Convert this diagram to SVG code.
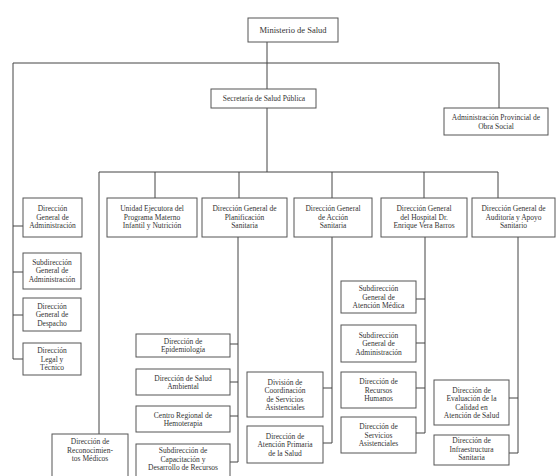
<svg xmlns="http://www.w3.org/2000/svg" width="558" height="476" viewBox="0 0 558 476">
<style>
.b{fill:#fff;stroke:#555;stroke-width:1}
.t{font-family:"Liberation Serif",serif;font-size:7.5px;fill:#333;text-anchor:middle}
.c{fill:none;stroke:#444;stroke-width:1}
</style>
<rect width="558" height="476" fill="#fff"/>
<g id="connectors">
<path class="c" d="M267 42V89M13 63H499M499 63V108M13 63V359M267 108V172M99 172H498M99 172V434M155 172V198M239 172V198M332 172V198M424 172V198M498 172V198"/>
<path class="c" d="M13 226H23M13 272H23M13 315H23M13 359H23"/>
<path class="c" d="M238 237V462M230 344H238M230 382H238M230 416H238M230 462H238"/>
<path class="c" d="M332 237V443M323 388H332M323 443H332"/>
<path class="c" d="M425 237V433M416 299H425M416 343H425M416 388H425M416 433H425"/>
<path class="c" d="M518 237V453M509 398H518M509 453H518"/>
</g>
<g id="ministerio"><rect class="b" x="248" y="18" width="90" height="24"/><text class="t" x="293" y="33" style="font-size:8.5px">Ministerio de Salud</text></g>
<g id="secretaria"><rect class="b" x="211" y="89" width="105" height="19"/><text class="t" x="264" y="101">Secretaría de Salud Pública</text></g>
<g id="obra-social"><rect class="b" x="444" y="108" width="104" height="27"/><text class="t" x="496" y="120">Administración Provincial de</text><text class="t" x="496" y="128.5">Obra Social</text></g>
<g id="dg-administracion"><rect class="b" x="23" y="198" width="59" height="39"/><text class="t" x="52.5" y="211">Dirección</text><text class="t" x="52.5" y="219.5">General de</text><text class="t" x="52.5" y="228">Administración</text></g>
<g id="unidad-ejecutora"><rect class="b" x="107" y="198" width="90" height="39"/><text class="t" x="152" y="211">Unidad Ejecutora del</text><text class="t" x="152" y="219.5">Programa Materno</text><text class="t" x="152" y="228">Infantil y Nutrición</text></g>
<g id="dg-planificacion"><rect class="b" x="202" y="198" width="85" height="39"/><text class="t" x="244.5" y="211">Dirección General de</text><text class="t" x="244.5" y="219.5">Planificación</text><text class="t" x="244.5" y="228">Sanitaria</text></g>
<g id="dg-accion"><rect class="b" x="294" y="198" width="78" height="39"/><text class="t" x="333" y="211">Dirección General</text><text class="t" x="333" y="219.5">de Acción</text><text class="t" x="333" y="228">Sanitaria</text></g>
<g id="dg-hospital"><rect class="b" x="381" y="198" width="86" height="39"/><text class="t" x="424" y="211">Dirección General</text><text class="t" x="424" y="219.5">del Hospital Dr.</text><text class="t" x="424" y="228">Enrique Vera Barros</text></g>
<g id="dg-auditoria"><rect class="b" x="472" y="198" width="83" height="39"/><text class="t" x="513.5" y="211">Dirección General de</text><text class="t" x="513.5" y="219.5">Auditoría y Apoyo</text><text class="t" x="513.5" y="228">Sanitario</text></g>
<g id="sub-administracion"><rect class="b" x="23" y="253" width="58" height="36"/><text class="t" x="52" y="264.5">Subdirección</text><text class="t" x="52" y="273">General de</text><text class="t" x="52" y="281.5">Administración</text></g>
<g id="despacho"><rect class="b" x="23" y="298" width="58" height="33"/><text class="t" x="52" y="308.5">Dirección</text><text class="t" x="52" y="317">General de</text><text class="t" x="52" y="325.5">Despacho</text></g>
<g id="legal"><rect class="b" x="23" y="343" width="58" height="32"/><text class="t" x="52" y="353">Dirección</text><text class="t" x="52" y="361.5">Legal y</text><text class="t" x="52" y="370">Técnico</text></g>
<g id="reconocimientos"><rect class="b" x="52" y="434" width="76" height="50"/><text class="t" x="90" y="444">Dirección de</text><text class="t" x="90" y="452.5">Reconocimien-</text><text class="t" x="90" y="461">tos Médicos</text></g>
<g id="epidemiologia"><rect class="b" x="136" y="334" width="94" height="23"/><text class="t" x="183" y="343.5">Dirección de</text><text class="t" x="183" y="352">Epidemiología</text></g>
<g id="salud-ambiental"><rect class="b" x="136" y="369" width="94" height="26"/><text class="t" x="183" y="380.5">Dirección de Salud</text><text class="t" x="183" y="389">Ambiental</text></g>
<g id="hemoterapia"><rect class="b" x="136" y="406" width="94" height="26"/><text class="t" x="183" y="417.5">Centro Regional de</text><text class="t" x="183" y="426">Hemoterapia</text></g>
<g id="capacitacion"><rect class="b" x="136" y="444" width="94" height="40"/><text class="t" x="183" y="453">Subdirección de</text><text class="t" x="183" y="461.5">Capacitación y</text><text class="t" x="183" y="470">Desarrollo de Recursos</text></g>
<g id="coordinacion"><rect class="b" x="247" y="372" width="76" height="45"/><text class="t" x="285" y="384.5">División de</text><text class="t" x="285" y="393">Coordinación</text><text class="t" x="285" y="401.5">de Servicios</text><text class="t" x="285" y="410">Asistenciales</text></g>
<g id="atencion-primaria"><rect class="b" x="247" y="426" width="76" height="37"/><text class="t" x="285" y="438.5">Dirección de</text><text class="t" x="285" y="447">Atención Primaria</text><text class="t" x="285" y="455.5">de la Salud</text></g>
<g id="atencion-medica"><rect class="b" x="341" y="281" width="75" height="32"/><text class="t" x="378.5" y="291">Subdirección</text><text class="t" x="378.5" y="299.5">General de</text><text class="t" x="378.5" y="308">Atención Médica</text></g>
<g id="hosp-administracion"><rect class="b" x="341" y="325" width="75" height="37"/><text class="t" x="378.5" y="337.5">Subdirección</text><text class="t" x="378.5" y="346">General de</text><text class="t" x="378.5" y="354.5">Administración</text></g>
<g id="recursos-humanos"><rect class="b" x="341" y="372" width="75" height="36"/><text class="t" x="378.5" y="384">Dirección de</text><text class="t" x="378.5" y="392.5">Recursos</text><text class="t" x="378.5" y="401">Humanos</text></g>
<g id="servicios-asistenciales"><rect class="b" x="341" y="417" width="75" height="36"/><text class="t" x="378.5" y="429">Dirección de</text><text class="t" x="378.5" y="437.5">Servicios</text><text class="t" x="378.5" y="446">Asistenciales</text></g>
<g id="evaluacion-calidad"><rect class="b" x="434" y="380" width="75" height="45"/><text class="t" x="471.5" y="392.5">Dirección de</text><text class="t" x="471.5" y="401">Evaluación de la</text><text class="t" x="471.5" y="409.5">Calidad en</text><text class="t" x="471.5" y="418">Atención de Salud</text></g>
<g id="infraestructura"><rect class="b" x="434" y="435" width="75" height="30"/><text class="t" x="471.5" y="443">Dirección de</text><text class="t" x="471.5" y="451.5">Infraestructura</text><text class="t" x="471.5" y="460">Sanitaria</text></g>
</svg>
